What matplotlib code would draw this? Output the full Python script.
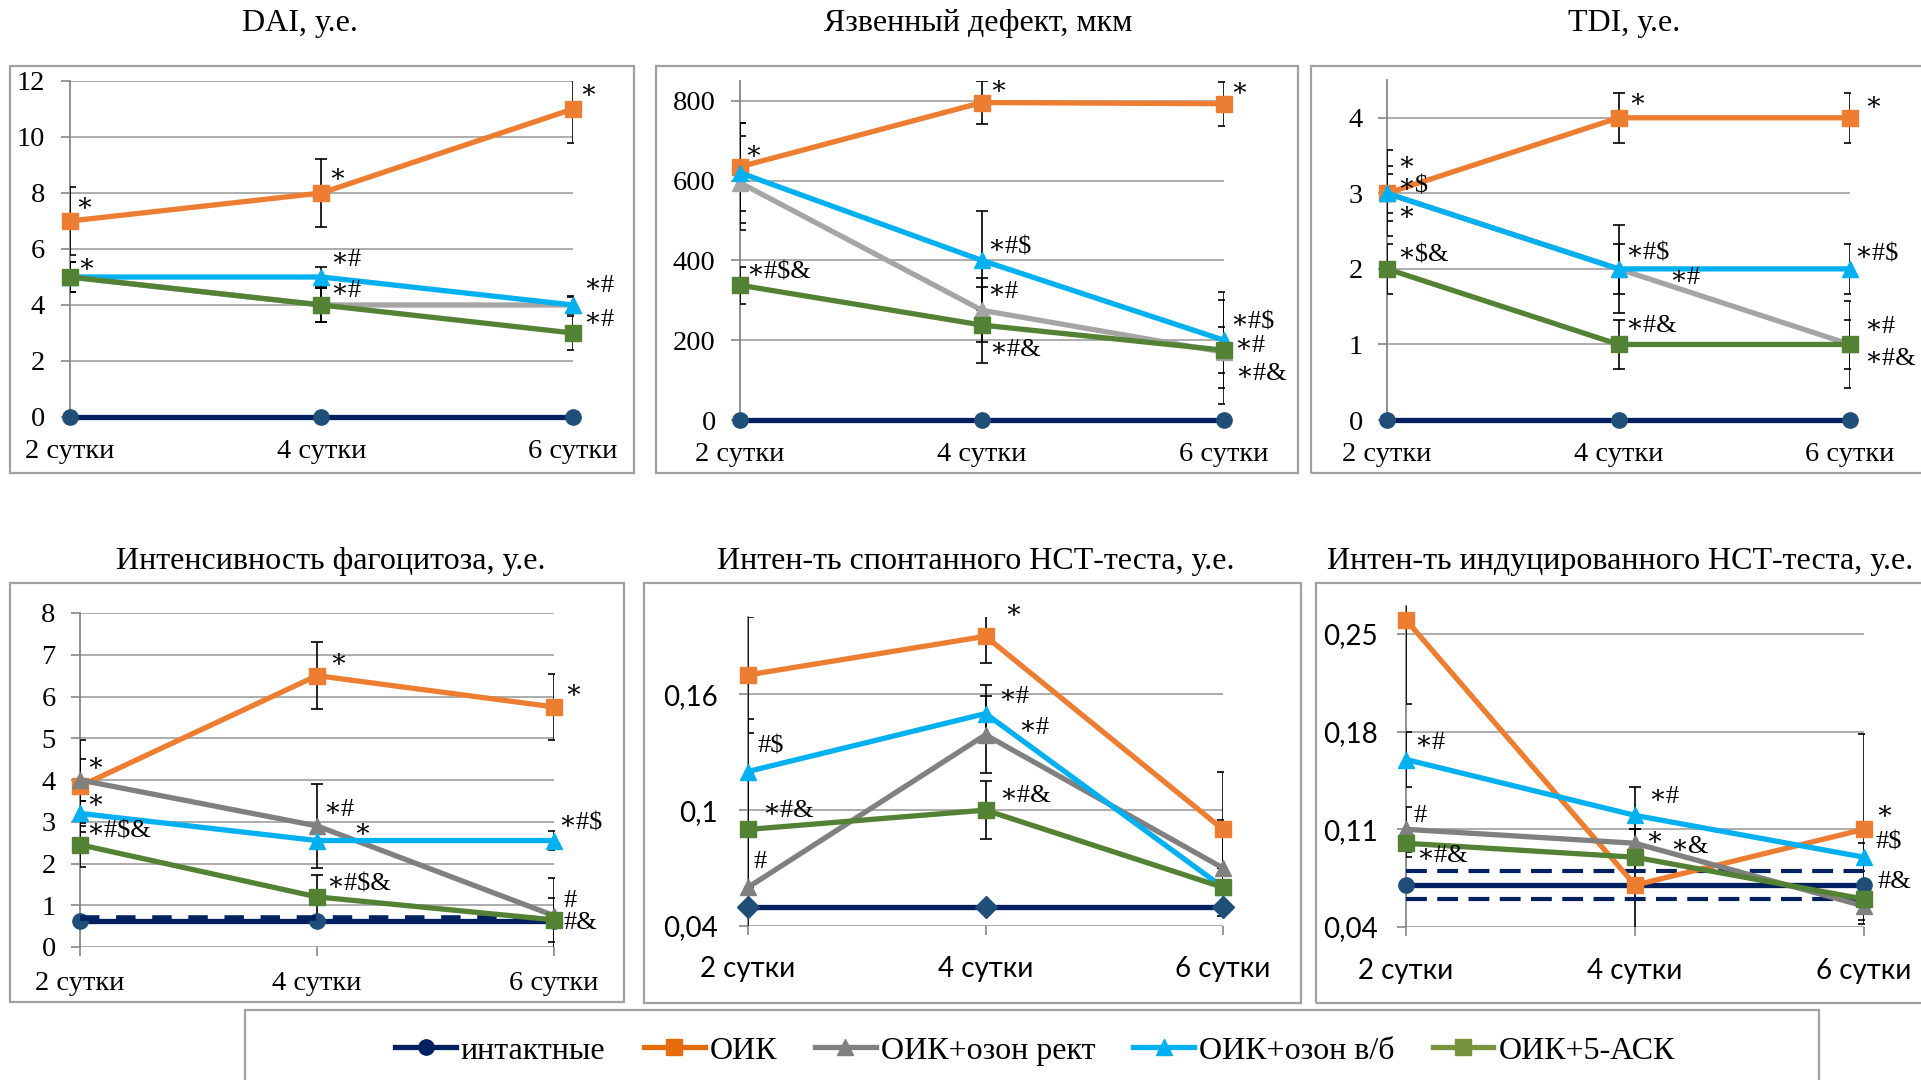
import matplotlib.pyplot as plt
from matplotlib.lines import Line2D
from matplotlib.patches import Rectangle

plt.rcParams['font.family'] = ['Liberation Serif', 'DejaVu Serif']

# =========================
# ДАННЫЕ
# =========================
days = ["2 сутки", "4 сутки", "6 сутки"]
groups = ["интактные", "ОИК", "ОИК+озон рект", "ОИК+озон в/б", "ОИК+5-АСК"]

# порядок рядов: интактные, ОИК, озон рект, озон в/б, 5-АСК
dai_vals = [[0, 0, 0], [7, 8, 11], [5, 4, 4], [5, 5, 4], [5, 4, 3]]
dai_errs = [[0, 0, 0], [1.2, 1.2, 1.2], [0.55, 0.6, 0.3], [0.55, 0.35, 0.32], [0.55, 0.6, 0.6]]

ulcer_vals = [[0, 0, 0], [635, 796, 793], [595, 275, 170], [620, 400, 200], [338, 238, 175]]
ulcer_errs = [[0, 0, 0], [110, 55, 55], [118, 80, 130], [125, 125, 120], [46, 95, 57]]

tdi_vals = [[0, 0, 0], [3, 4, 4], [3, 2, 1], [3, 2, 2], [2, 1, 1]]
tdi_errs = [[0, 0, 0], [0.57, 0.33, 0.33], [0.36, 0.58, 0.58], [0.26, 0.33, 0.33], [0.33, 0.33, 0.33]]

phago_vals = [[0.62, 0.62, 0.62], [3.85, 6.5, 5.75], [4.0, 2.9, 0.75], [3.2, 2.55, 2.55], [2.45, 1.2, 0.65]]
phago_errs = [[0, 0, 0], [1.1, 0.8, 0.8], [0.5, 1.0, 0.9], [0.3, 0.2, 0.23], [0.53, 0.52, 0.53]]
phago_band = [0.7]

nbt_sp_vals = [[0.05, 0.05, 0.05], [0.17, 0.19, 0.09], [0.06, 0.139, 0.07], [0.12, 0.15, 0.06], [0.09, 0.1, 0.06]]
nbt_sp_errs = [[0, 0, 0], [0.03, 0.014, 0.03], [0.03, 0.02, 0.025], [0.027, 0.015, 0.01], [0.03, 0.015, 0.01]]

nbt_ind_vals = [[0.07, 0.07, 0.07], [0.26, 0.07, 0.11], [0.11, 0.1, 0.055], [0.16, 0.12, 0.09], [0.1, 0.09, 0.06]]
nbt_ind_errs = [[0, 0, 0], [0.06, 0.04, 0.068], [0.016, 0.01, 0.01], [0.02, 0.02, 0.01], [0.01, 0.01, 0.01]]
nbt_ind_band = [0.06, 0.08]

# метки значимости: (ряд, сутки, текст)
dai_marks = [(1, 0, "∗"), (1, 1, "∗"), (1, 2, "∗"), (3, 0, "∗"), (3, 1, "∗#"),
             (4, 1, "∗#"), (3, 2, "∗#"), (4, 2, "∗#")]
ulcer_marks = [(1, 0, "∗"), (1, 1, "∗"), (1, 2, "∗"), (4, 0, "∗#$&"), (3, 1, "∗#$"),
               (2, 1, "∗#"), (4, 1, "∗#&"), (3, 2, "∗#$"), (2, 2, "∗#"), (4, 2, "∗#&")]
tdi_marks = [(1, 0, "∗"), (2, 0, "∗$"), (3, 0, "∗"), (4, 0, "∗$&"), (1, 1, "∗"),
             (3, 1, "∗#$"), (2, 1, "∗#"), (4, 1, "∗#&"), (1, 2, "∗"), (3, 2, "∗#$"),
             (2, 2, "∗#"), (4, 2, "∗#&")]
phago_marks = [(1, 0, "∗"), (3, 0, "∗"), (4, 0, "∗#$&"), (1, 1, "∗"), (2, 1, "∗#"),
               (3, 1, "∗"), (4, 1, "∗#$&"), (1, 2, "∗"), (3, 2, "∗#$"), (2, 2, "#"),
               (4, 2, "#&")]
nbt_sp_marks = [(1, 1, "∗"), (3, 0, "#$"), (4, 0, "∗#&"), (2, 0, "#"), (3, 1, "∗#"),
                (2, 1, "∗#"), (4, 1, "∗#&")]
nbt_ind_marks = [(3, 0, "∗#"), (2, 0, "#"), (4, 0, "∗#&"), (3, 1, "∗#"), (2, 1, "∗"),
                 (4, 1, "∗&"), (1, 2, "∗"), (3, 2, "#$"), (0, 2, "#&")]

# сдвиги меток в пикселях (оформление)
dai_off = [(5, 17), (7, 18), (6, 18), (7, 12), (9, 17), (9, 14), (10, 19), (10, 13)]
ulcer_off = [(4, 15), (7, 15), (6, 15), (6, 13), (5, 13), (5, 18), (7, -25), (6, 18), (10, 6), (11, -24)]
tdi_off = [(10, 30), (10, 7), (10, -20), (10, 13), (10, 18), (7, 15), (51, -9), (7, 18), (14, 15),
           (4, 14), (14, 17), (14, -15)]
phago_off = [(6, 22), (6, 12), (6, 13), (12, 15), (6, 16), (36, 10), (9, 12), (10, 16), (4, 17),
             (10, 15), (10, -3)]
nbt_sp_off = [(19, 25), (10, 25), (14, 18), (6, 25), (13, 17), (33, 7), (14, 14)]
nbt_ind_off = [(8, 17), (8, 13), (10, -13), (13, 18), (10, 5), (35, 10), (11, 17), (11, 15), (14, 3)]

# =========================
# ОФОРМЛЕНИЕ
# =========================
NAVY = "#002060"
ORANGE = "#ED7D31"
BLUE = "#00B0F0"
GREEN = "#548235"
GRID = "#A6A6A6"
W, H = 1921, 1080

fig = plt.figure(figsize=(W / 100, H / 100), dpi=100)


def px_rect(x0, y0, x1, y1):
    # прямоугольник в пикселях (сверху вниз) -> доли фигуры
    return [x0 / W, 1 - y1 / H, (x1 - x0) / W, (y1 - y0) / H]


def frame(x0, y0, x1, y1):
    fig.patches.append(Rectangle((x0 / W, 1 - y1 / H), (x1 - x0) / W, (y1 - y0) / H,
                                 transform=fig.transFigure, fill=False,
                                 edgecolor="#A0A0A0", lw=1.6))


def panel(rect, vals, errs, ylim, yticks, ytl, gray, marks, offs,
          sans=False, xticks_on=False, xpad=18, ypad=11.5, intact_marker="o"):
    ax = fig.add_axes(rect)
    x = [0, 1, 2]
    colors = [NAVY, ORANGE, gray, BLUE, GREEN]
    mk = [intact_marker, "s", "^", "^", "s"]
    ms = [11, 11, 12, 12, 11]
    for i in range(5):
        if max(errs[i]) > 0:
            ax.errorbar(x, vals[i], yerr=errs[i], fmt="none", ecolor="black",
                        elinewidth=1.2, capsize=4, capthick=1.2, zorder=3)
    for i in range(5):
        mfc = "#1F4E79" if i == 0 else colors[i]
        ax.plot(x, vals[i], color=colors[i], lw=3.8, marker=mk[i], ms=ms[i],
                mfc=mfc, mec=mfc, clip_on=False, zorder=4 + i)
    for (s, d, t), (dx, dy) in zip(marks, offs):
        ax.annotate(t, xy=(d, vals[s][d]), xytext=(dx, dy), textcoords="offset pixels",
                    ha="left", va="center", fontsize=19, annotation_clip=False,
                    family=["Liberation Serif", "DejaVu Serif"], zorder=10)
    ax.set_xlim(0, 2)
    ax.set_ylim(*ylim)
    ax.set_yticks(yticks, ytl)
    ax.set_xticks(x, days)
    ax.yaxis.grid(True, color=GRID, lw=1.3)
    ax.set_axisbelow(True)
    for s in ["top", "right", "bottom"]:
        ax.spines[s].set_visible(False)
    ax.spines["left"].set_color("#868686")
    ax.spines["left"].set_linewidth(1.3)
    ax.tick_params(axis="y", length=6.5, color="#868686", width=1.2, pad=ypad)
    ax.tick_params(axis="x", length=6.5 if xticks_on else 0, color="#868686", width=1.2, pad=xpad)
    fam = ["Lato", "DejaVu Sans"] if sans else ["Liberation Serif", "DejaVu Serif"]
    size = 20 if sans else 20.5
    for lab in ax.get_xticklabels() + ax.get_yticklabels():
        lab.set_family(fam)
        lab.set_fontsize(size)
    return ax


# рамки диаграмм
frame(10, 66, 634, 473)
frame(656, 66, 1298, 473)
frame(1311, 66, 1930, 473)
frame(10, 583, 624, 1002)
frame(644, 583, 1301, 1003)
frame(1316, 583, 1930, 1003)
frame(245, 1010, 1819, 1090)

# =========================
# ГРАФИКИ
# =========================
panel(px_rect(70, 81, 573, 417), dai_vals, dai_errs, (0, 12), range(0, 13, 2),
      [str(v) for v in range(0, 13, 2)], "#A5A5A5", dai_marks, dai_off, xpad=16)

panel(px_rect(740, 81, 1224, 420), ulcer_vals, ulcer_errs, (0, 850), range(0, 801, 200),
      [str(v) for v in range(0, 801, 200)], "#A5A5A5", ulcer_marks, ulcer_off, ypad=11, xpad=16)

panel(px_rect(1387, 80, 1850, 420), tdi_vals, tdi_errs, (0, 4.5), range(0, 5),
      [str(v) for v in range(0, 5)], "#A5A5A5", tdi_marks, tdi_off, ypad=11, xpad=16)

ax4 = panel(px_rect(80, 613, 554, 947), phago_vals, phago_errs, (0, 8), range(0, 9),
            [str(v) for v in range(0, 9)], "#808080", phago_marks, phago_off,
            xticks_on=True, xpad=11, ypad=11)
for b in phago_band:
    ax4.plot([0, 1, 2], [b] * 3, color=NAVY, lw=4, ls=(0, (3.5, 3)), zorder=4, clip_on=False)

panel(px_rect(748, 617, 1223, 926), nbt_sp_vals, nbt_sp_errs, (0.04, 0.2), [0.04, 0.1, 0.16],
      ["0,04", "0,1", "0,16"], "#808080", nbt_sp_marks, nbt_sp_off,
      sans=True, xticks_on=True, xpad=15, ypad=15, intact_marker="D")

ax6 = panel(px_rect(1406, 606, 1864, 927), nbt_ind_vals, nbt_ind_errs, (0.04, 0.27),
            [0.04, 0.11, 0.18, 0.25], ["0,04", "0,11", "0,18", "0,25"], "#808080",
            nbt_ind_marks, nbt_ind_off, sans=True, xticks_on=True, xpad=16, ypad=14)
for b in nbt_ind_band:
    ax6.plot([0, 1, 2], [b] * 3, color=NAVY, lw=3, ls=(0, (5, 2.5)), zorder=4, clip_on=False)

# заголовки
titles = ["DAI, у.е.", "Язвенный дефект, мкм", "TDI, у.е.",
          "Интенсивность фагоцитоза, у.е.", "Интен-ть спонтанного НСТ-теста, у.е.",
          "Интен-ть индуцированного НСТ-теста, у.е."]
title_xy = [(300, 23), (978, 23), (1624, 23), (331, 561), (976, 561), (1620, 561)]
for t, (tx, ty) in zip(titles, title_xy):
    fig.text(tx / W, 1 - ty / H, t, ha="center", va="center", fontsize=23)

# легенда
leg_colors = [NAVY, "#E46C0A", "#808080", BLUE, "#77933C"]
leg_markers = ["o", "s", "^", "^", "s"]
handles = [Line2D([0], [0], color=c, lw=3.8, marker=m, ms=11, mfc=c, mec=c)
           for c, m in zip(leg_colors, leg_markers)]
fig.legend(handles, groups, loc="center", bbox_to_anchor=(1035 / W, 1 - 1051 / H), ncol=5,
           frameon=False, fontsize=23, handlelength=1.9, handletextpad=0.15, columnspacing=1.2)

fig.savefig("out.png", dpi=100)
